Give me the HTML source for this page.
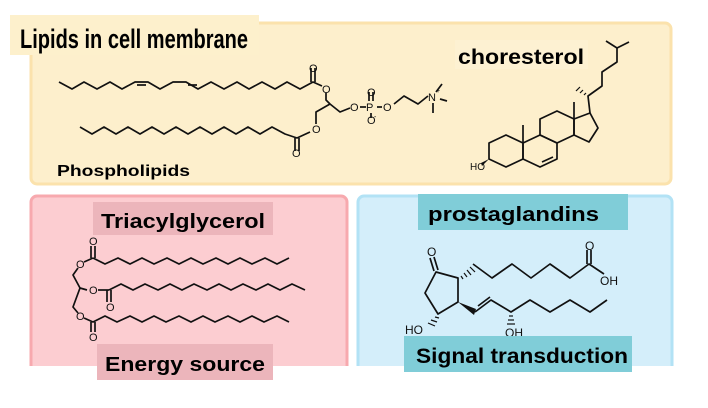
<!DOCTYPE html>
<html><head><meta charset="utf-8"><style>
html,body{margin:0;padding:0;background:#fff;width:708px;height:408px;overflow:hidden}
</style></head><body>
<svg width="708" height="408" viewBox="0 0 708 408" xmlns="http://www.w3.org/2000/svg" font-family="Liberation Sans, sans-serif">
<rect x="31" y="23" width="640" height="161" rx="6" fill="#fdefcc" stroke="#fbe2ac" stroke-width="3"/>
<path d="M31 366 V202 a6 6 0 0 1 6 -6 H341 a6 6 0 0 1 6 6 V366 Z" fill="#fccdd1"/>
<path d="M31 366 V202 a6 6 0 0 1 6 -6 H341 a6 6 0 0 1 6 6 V366" fill="none" stroke="#f7a9ae" stroke-width="3"/>
<path d="M358 366 V202 a6 6 0 0 1 6 -6 H666 a6 6 0 0 1 6 6 V366 Z" fill="#d4eefa"/>
<path d="M358 366 V202 a6 6 0 0 1 6 -6 H666 a6 6 0 0 1 6 6 V366" fill="none" stroke="#b2e2f5" stroke-width="3"/>
<rect x="0" y="366" width="708" height="42" fill="#fff"/>
<rect x="10" y="15" width="249" height="40" fill="#fdf0cc"/>
<text x="20" y="48" font-size="27" font-weight="bold" textLength="228" lengthAdjust="spacingAndGlyphs">Lipids in cell membrane</text>
<rect x="455" y="40" width="133" height="29" fill="#fdf1d2"/>
<text x="458" y="64" font-size="21" font-weight="bold" textLength="126" lengthAdjust="spacingAndGlyphs">choresterol</text>
<text x="57" y="176" font-size="16" font-weight="bold" textLength="133" lengthAdjust="spacingAndGlyphs">Phospholipids</text>
<rect x="93" y="202" width="180" height="33" fill="#ecb5bb"/>
<text x="101" y="228" font-size="20" font-weight="bold" textLength="164" lengthAdjust="spacingAndGlyphs">Triacylglycerol</text>
<rect x="97" y="344" width="176" height="36" fill="#ecb5bb"/>
<text x="105" y="371" font-size="20" font-weight="bold" textLength="160" lengthAdjust="spacingAndGlyphs">Energy source</text>
<rect x="418" y="194" width="210" height="36" fill="#80cdd8"/>
<text x="428" y="221" font-size="20" font-weight="bold" textLength="171" lengthAdjust="spacingAndGlyphs">prostaglandins</text>

<g fill="none" stroke="#111" stroke-width="1.7" stroke-linejoin="round">
<polyline points="59,82 72,89 84,82 97,89 110,82 122,89 135,82 148,82 160,89 173,82 186,82 198,89 211,82 224,89 237,82 249,89 262,82 275,89 287,82 300,89 313,82 322,86"/>
<line x1="137" y1="85" x2="146" y2="85"/><line x1="188" y1="85" x2="197" y2="85"/>
<line x1="311" y1="82" x2="311" y2="68"/><line x1="315" y1="82" x2="315" y2="68"/>
<polyline points="326,93 326,100 330,104 340,112 350,108"/>
<polyline points="330,104 316,112 316,124"/>
<polyline points="80,127 92,134 104,127 116,134 128,127 140,134 152,127 164,134 176,127 188,134 200,127 212,134 224,127 236,134 248,127 260,134 272,127 285,134 297,138 310,132"/>
<line x1="295" y1="138" x2="295" y2="151"/><line x1="299" y1="138" x2="299" y2="151"/>
<line x1="360" y1="107" x2="366" y2="107"/><line x1="377" y1="107" x2="382" y2="107"/>
<line x1="369" y1="101" x2="369" y2="92"/><line x1="373" y1="101" x2="373" y2="92"/>
<line x1="371" y1="113" x2="371" y2="118"/>
<polyline points="394,104 404,96 418,104 428,96"/>
<line x1="436" y1="92" x2="442" y2="84"/><line x1="440" y1="99" x2="447" y2="101"/><line x1="433" y1="103" x2="433" y2="113"/>
<polygon points="506,135 523,143 523,159 506,167 489,159 489,143"/>
<polygon points="540,135 557,143 557,159 540,167 523,159 523,143"/>
<polygon points="557,111 574,119 574,135 557,143 540,135 540,119"/>
<polygon points="574,119 590,113 598,128 589,142 574,135"/>
<line x1="542" y1="162" x2="553" y2="157"/>
<line x1="523" y1="143" x2="523" y2="125"/><line x1="574" y1="119" x2="574" y2="102"/>
<polyline points="590,113 588,96 602,86 602,72 617,62 617,48 606,41"/>
<line x1="617" y1="48" x2="629" y2="42"/>
</g>
<g stroke="#111" stroke-width="1.2">
<line x1="584" y1="95" x2="586" y2="93"/><line x1="580" y1="93" x2="583" y2="90"/><line x1="576" y1="91" x2="580" y2="87"/>
</g>
<polygon points="489,159 481,163 482,166" fill="#111"/>

<g fill="none" stroke="#111" stroke-width="1.7" stroke-linejoin="round">
<polyline points="93,258 105,264 118,258 130,264 142,258 154,264 167,258 179,264 191,258 203,264 216,258 228,264 240,258 252,264 265,258 277,264 289,258"/>
<line x1="91" y1="258" x2="91" y2="246"/><line x1="95" y1="258" x2="95" y2="246"/>
<polyline points="93,258 84,262"/><polyline points="78,268 73,275 80,288 87,290"/>
<polyline points="109,290 121,284 133,290 145,284 158,290 170,284 182,290 194,284 207,290 219,284 231,290 243,284 256,290 268,284 280,290 292,284 305,290"/>
<line x1="98" y1="290" x2="109" y2="290"/>
<line x1="107" y1="290" x2="107" y2="302"/><line x1="111" y1="290" x2="111" y2="302"/>
<polyline points="80,288 73,307 78,313"/>
<polyline points="84,318 93,322 105,316 117,322 130,316 142,322 154,316 166,322 179,316 191,322 203,316 215,322 228,316 240,322 252,316 264,322 277,316 289,322"/>
<line x1="91" y1="322" x2="91" y2="332"/><line x1="95" y1="322" x2="95" y2="332"/>
<polygon points="436,272 458,278 458,302 438,314 425,293"/>
<line x1="434" y1="271" x2="430" y2="258"/><line x1="438" y1="270" x2="434" y2="257"/>
<polyline points="473,264 492,278 512,264 531,278 550,264 570,278 589,264 604,274"/>
<line x1="587" y1="264" x2="587" y2="250"/><line x1="591" y1="264" x2="591" y2="250"/>
<polyline points="475,312 491,300 511,312 530,300 550,312 570,300 590,312 607,300"/>
<line x1="478" y1="306" x2="490" y2="297"/>
</g>
<polygon points="458,302 476,309 474,315" fill="#111"/>
<g stroke="#111" stroke-width="1.2">
<line x1="461" y1="276" x2="463" y2="279"/><line x1="464" y1="273" x2="467" y2="277"/><line x1="467" y1="270" x2="471" y2="275"/><line x1="470" y1="267" x2="475" y2="272"/>
<line x1="435" y1="317" x2="439" y2="318"/><line x1="431" y1="320" x2="437" y2="322"/><line x1="428" y1="323" x2="435" y2="326"/>
<line x1="509" y1="316" x2="513" y2="316"/><line x1="508" y1="320" x2="514" y2="320"/><line x1="507" y1="324" x2="515" y2="324"/>
</g>
<g font-size="11" fill="#111">
<text x="309" y="72">O</text><text x="322" y="93">O</text><text x="350" y="111">O</text>
<text x="366" y="111">P</text><text x="367" y="96">O</text><text x="367" y="124">O</text><text x="374" y="119" font-size="7">-</text>
<text x="383" y="111">O</text><text x="428" y="101">N</text><text x="436" y="93" font-size="7">+</text>
<text x="312" y="133">O</text><text x="292" y="157">O</text>
<text x="470" y="170" font-size="10">HO</text>
<text x="89" y="245">O</text><text x="76" y="268">O</text><text x="89" y="294">O</text><text x="106" y="311">O</text>
<text x="76" y="320">O</text><text x="89" y="341">O</text>
<text x="427" y="256" font-size="12">O</text><text x="585" y="250" font-size="12">O</text><text x="600" y="285" font-size="12">OH</text>
<text x="405" y="334" font-size="12">HO</text><text x="505" y="337" font-size="12">OH</text>
</g>
<rect x="404" y="336" width="228" height="36" fill="#80cdd8"/>
<text x="416" y="363" font-size="21" font-weight="bold" textLength="212" lengthAdjust="spacingAndGlyphs">Signal transduction</text>
</svg>
</body></html>
